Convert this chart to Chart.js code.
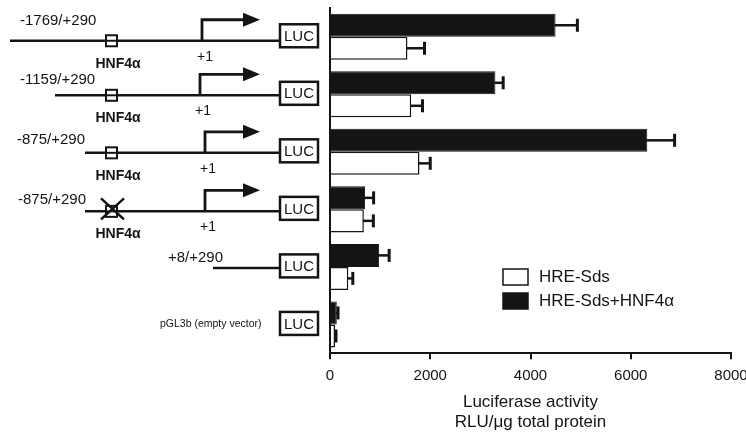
<!DOCTYPE html>
<html>
<head>
<meta charset="utf-8">
<script src="https://cdn.jsdelivr.net/npm/chart.js@4"></script>
<style>
  html, body { margin: 0; padding: 0; background: #fff; }
  #wrap { width: 746px; height: 433px; }
</style>
</head>
<body>
<div id="wrap"><canvas id="luc"></canvas></div>
<script>
// constructs (one per row, top to bottom)
const constructs = ['-1769/+290', '-1159/+290', '-875/+290', '-875/+290 mut', '+8/+290', 'pGL3b (empty vector)'];
// luciferase activity, RLU/ug total protein
const hnfValues = [4500, 3300, 6330, 700, 980, 135];
const hnfErrors = [435, 155, 545, 170, 200, 25];
const sdsValues = [1545, 1620, 1785, 675, 365, 100];
const sdsErrors = [340, 225, 215, 190, 90, 20];
const xTicks = [0, 2000, 4000, 6000, 8000];

const INK = '#141414';
const FONT = "'Liberation Sans', Arial, sans-serif";

Chart.defaults.font.family = FONT;
Chart.defaults.color = INK;

// error bars (positive side only, as in the figure)
const errorBars = {
    id: 'errorBars',
    afterDatasetsDraw(chart) {
        const ctx = chart.ctx;
        const xs = chart.scales.x;
        chart.data.datasets.forEach((ds, di) => {
            const meta = chart.getDatasetMeta(di);
            meta.data.forEach((bar, i) => {
                const end = xs.getPixelForValue(ds.data[i] + ds.errors[i]);
                ctx.save();
                ctx.strokeStyle = INK;
                ctx.lineWidth = 2.5;
                ctx.beginPath();
                ctx.moveTo(bar.x - 1, bar.y);
                ctx.lineTo(end, bar.y);
                ctx.stroke();
                ctx.lineWidth = 3;
                ctx.beginPath();
                ctx.moveTo(end, bar.y - 6.5);
                ctx.lineTo(end, bar.y + 6.5);
                ctx.stroke();
                ctx.restore();
            });
        });
    }
};

// promoter schematics drawn beside each row
const schematic = {
    id: 'schematic',
    afterDraw(chart) {
        const ctx = chart.ctx;
        const ys = chart.scales.y;
        const rows = [
            { text: '-1769/+290', tx: 20, tdy: -20, dy: 4, start: 10, hnf: true, tss: 202 },
            { text: '-1159/+290', tx: 20, tdy: -15, dy: 1, start: 55, hnf: true, tss: 200 },
            { text: '-875/+290', tx: 17, tdy: -13, dy: 1, start: 85, hnf: true, tss: 205 },
            { text: '-875/+290', tx: 18, tdy: -12, dy: 2, start: 85, hnf: true, mut: true, tss: 205 },
            { text: '+8/+290', tx: 168, tdy: -10, dy: 1, start: 213 },
            { text: 'pGL3b (empty vector)', tx: 160, tdy: -1, dy: -1, small: true }
        ];
        ctx.save();
        ctx.strokeStyle = INK;
        ctx.fillStyle = INK;
        ctx.textBaseline = 'middle';
        rows.forEach((r, i) => {
            const cy = ys.getPixelForValue(i);
            const ly = cy + r.dy;
            // construct label
            ctx.textAlign = 'left';
            ctx.font = r.small ? '10.5px ' + FONT : '15px ' + FONT;
            ctx.fillText(r.text, r.tx, r.small ? cy : ly + r.tdy);
            // DNA line
            if (r.start !== undefined) {
                ctx.lineWidth = 2.5;
                ctx.beginPath();
                ctx.moveTo(r.start, ly);
                ctx.lineTo(280, ly);
                ctx.stroke();
            }
            // HNF4a site
            if (r.hnf) {
                ctx.lineWidth = 2;
                ctx.clearRect(106, ly - 5.5, 11, 11);
                ctx.strokeRect(106, ly - 5.5, 11, 11);
                ctx.beginPath();
                ctx.moveTo(106, ly);
                ctx.lineTo(117, ly);
                ctx.stroke();
                if (r.mut) {
                    ctx.lineWidth = 2.5;
                    ctx.beginPath();
                    ctx.moveTo(101, ly - 13);
                    ctx.lineTo(124, ly + 8);
                    ctx.moveTo(124, ly - 13);
                    ctx.lineTo(101, ly + 8);
                    ctx.stroke();
                }
                ctx.textAlign = 'center';
                ctx.font = 'bold 14px ' + FONT;
                ctx.fillText('HNF4α', 118, ly + 23);
            }
            // transcription start
            if (r.tss) {
                ctx.lineWidth = 2.8;
                ctx.beginPath();
                ctx.moveTo(r.tss, ly);
                ctx.lineTo(r.tss, ly - 21);
                ctx.lineTo(245, ly - 21);
                ctx.stroke();
                ctx.beginPath();
                ctx.moveTo(243, ly - 28);
                ctx.lineTo(260, ly - 21);
                ctx.lineTo(243, ly - 14);
                ctx.closePath();
                ctx.fill();
                ctx.textAlign = 'center';
                ctx.font = '14px ' + FONT;
                ctx.fillText('+1', r.tss + 3, ly + 16);
            }
            // reporter box
            const by = cy - 1;
            ctx.lineWidth = 2.5;
            ctx.clearRect(280, by - 11.5, 38, 23);
            ctx.strokeRect(280, by - 11.5, 38, 23);
            ctx.textAlign = 'center';
            ctx.font = '15px ' + FONT;
            ctx.fillText('LUC', 299, by + 1);
        });
        ctx.restore();
    }
};

// legend inside the plot, white series first
const boxLegend = {
    id: 'boxLegend',
    afterDraw(chart) {
        const ctx = chart.ctx;
        const items = [chart.data.datasets[1], chart.data.datasets[0]];
        ctx.save();
        items.forEach((ds, i) => {
            const y = 269 + i * 24;
            ctx.fillStyle = ds.backgroundColor;
            ctx.fillRect(503, y, 25, 16);
            ctx.strokeStyle = INK;
            ctx.lineWidth = 1.5;
            ctx.strokeRect(503, y, 25, 16);
            ctx.fillStyle = INK;
            ctx.font = '17px ' + FONT;
            ctx.textAlign = 'left';
            ctx.textBaseline = 'middle';
            ctx.fillText(ds.label, 539, y + 8.5);
        });
        ctx.restore();
    }
};

new Chart(document.getElementById('luc'), {
    type: 'bar',
    data: {
        labels: constructs,
        datasets: [{
            label: 'HRE-Sds+HNF4α',
            data: hnfValues,
            errors: hnfErrors,
            backgroundColor: INK,
            borderColor: INK,
            borderWidth: 1
        }, {
            label: 'HRE-Sds',
            data: sdsValues,
            errors: sdsErrors,
            backgroundColor: '#ffffff',
            borderColor: INK,
            borderWidth: 1.5
        }]
    },
    options: {
        indexAxis: 'y',
        responsive: true,
        maintainAspectRatio: false,
        animation: false,
        categoryPercentage: 0.8,
        barPercentage: 1.0,
        layout: { padding: { left: 330, top: 8, right: 0, bottom: 0 } },
        plugins: {
            legend: { display: false },
            tooltip: { enabled: false }
        },
        scales: {
            x: {
                min: 0,
                max: 8000,
                afterBuildTicks: (s) => { s.ticks = xTicks.map(v => ({ value: v })); },
                afterFit: (s) => { s.paddingRight = 15; },
                ticks: {
                    font: { size: 15, lineHeight: 1 },
                    color: INK,
                    padding: 9,
                    maxRotation: 0,
                    callback: (v) => String(v)
                },
                grid: { drawOnChartArea: false, tickLength: 6, color: INK, lineWidth: 2 },
                border: { color: INK, width: 2 },
                title: {
                    display: true,
                    text: ['Luciferase activity', 'RLU/μg total protein'],
                    font: { size: 17 },
                    color: INK,
                    padding: { top: 0, bottom: 0 }
                }
            },
            y: {
                ticks: { display: false },
                grid: { drawOnChartArea: false, drawTicks: false },
                border: { color: INK, width: 2 }
            }
        }
    },
    plugins: [errorBars, schematic, boxLegend]
});
</script>
</body>
</html>
